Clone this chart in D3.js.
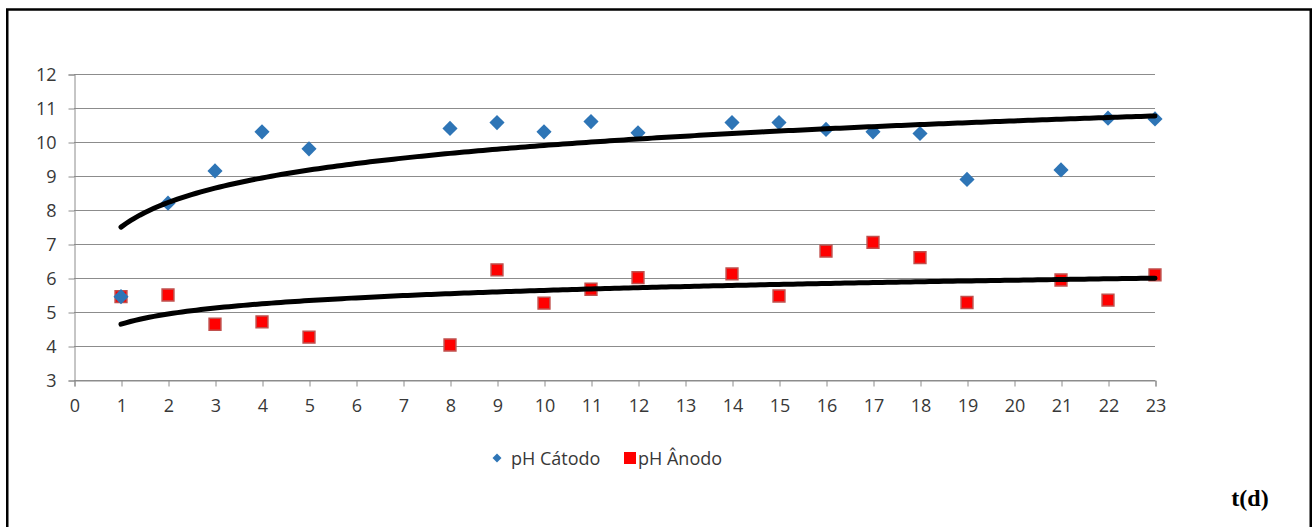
<html>
<head>
<meta charset="utf-8">
<title>pH Cátodo / Ânodo</title>
<script src="https://cdn.jsdelivr.net/npm/d3@7"></script>
<style>
  body { margin: 0; background: #fff; }
  text { font-family: "Open Sans", Lato, sans-serif; fill: #383838; }
</style>
</head>
<body>
<script>
// days sampled and the readings for each electrode
var days = [1, 2, 3, 4, 5, 8, 9, 10, 11, 12, 14, 15, 16, 17, 18, 19, 21, 22, 23];
var phCatodo = [5.45, 8.2, 9.15, 10.3, 9.8, 10.4, 10.57, 10.3, 10.6, 10.27, 10.57, 10.57, 10.37, 10.3, 10.25, 8.9, 9.18, 10.7, 10.68];
var phAnodo = [5.45, 5.5, 4.64, 4.71, 4.26, 4.03, 6.24, 5.26, 5.67, 6.01, 6.12, 5.47, 6.79, 7.05, 6.6, 5.28, 5.94, 5.35, 6.09];
var xTicks = d3.range(0, 24);
var yTicks = [3, 4, 5, 6, 7, 8, 9, 10, 11, 12];
var seriesNames = ["pH Cátodo", "pH Ânodo"];

var W = 1313, H = 527;

var svg = d3.select("body").append("svg")
    .attr("width", W)
    .attr("height", H);

// outer frame
svg.append("rect")
    .attr("x", 7.25).attr("y", 9.5)
    .attr("width", 1303.5).attr("height", 530)
    .attr("fill", "none")
    .attr("stroke", "#000")
    .attr("stroke-width", 2.5);

var x = d3.scaleLinear().domain([0, 23]).range([74, 1155]);
var y = d3.scaleLinear().domain([3, 12]).range([380, 74]);

// horizontal grid
svg.append("g").selectAll("line")
    .data(yTicks)
    .enter().append("line")
    .attr("x1", x(0)).attr("x2", x(23))
    .attr("y1", function(d) { return Math.round(y(d)) + 0.5; })
    .attr("y2", function(d) { return Math.round(y(d)) + 0.5; })
    .attr("stroke", "#8c8c8c")
    .attr("stroke-width", 1);

// y axis
var yAxis = svg.append("g")
    .attr("transform", "translate(" + (x(0) + 0.5) + ",0.5)")
    .call(d3.axisLeft(y).tickValues(yTicks).tickSize(6).tickPadding(12).tickFormat(d3.format("d")));

// x axis
var xAxis = svg.append("g")
    .attr("transform", "translate(0.5," + (y(3) + 0.5) + ")")
    .call(d3.axisBottom(x).tickValues(xTicks).tickSize(6).tickPadding(13).tickFormat(d3.format("d")));

[yAxis, xAxis].forEach(function(a) {
  a.selectAll("path, line").attr("stroke", "#8c8c8c");
  a.selectAll("text").style("font-size", "18px").style("font-family", "'Open Sans', Lato, sans-serif").attr("fill", "#383838");
});

// log trend (least squares on ln x), like the spreadsheet trendline
function logFit(xs, ys) {
  var L = xs.map(Math.log);
  var mL = d3.mean(L), mY = d3.mean(ys);
  var sxy = d3.sum(L, function(l, i) { return (l - mL) * (ys[i] - mY); });
  var sxx = d3.sum(L, function(l) { return (l - mL) * (l - mL); });
  var a = sxy / sxx;
  return { a: a, b: mY - a * mL };
}

var diamond = d3.symbol().type(d3.symbolSquare).size(115);
var square = d3.symbol().type(d3.symbolSquare).size(140);

// anodo squares
svg.append("g").selectAll("path")
    .data(days)
    .enter().append("path")
    .attr("d", square)
    .attr("transform", function(d, i) { return "translate(" + x(d) + "," + y(phAnodo[i]) + ")"; })
    .attr("fill", "#ff0000")
    .attr("stroke", "#c0504d")
    .attr("stroke-width", 1.5);

// catodo diamonds
svg.append("g").selectAll("path")
    .data(days)
    .enter().append("path")
    .attr("d", diamond)
    .attr("transform", function(d, i) { return "translate(" + x(d) + "," + y(phCatodo[i]) + ") rotate(45)"; })
    .attr("fill", "#2e75b6");

// trend lines
var line = d3.line()
    .x(function(d) { return x(d[0]); })
    .y(function(d) { return y(d[1]); });

[phCatodo, phAnodo].forEach(function(vals) {
  var f = logFit(days, vals);
  var pts = d3.range(1, 23.001, 0.1).map(function(t) { return [t, f.a * Math.log(t) + f.b]; });
  svg.append("path")
      .datum(pts)
      .attr("d", line)
      .attr("fill", "none")
      .attr("stroke", "#000")
      .attr("stroke-width", 5)
      .attr("stroke-linecap", "round");
});

// legend
var leg = svg.append("g");
leg.append("path")
    .attr("d", d3.symbol().type(d3.symbolSquare).size(40))
    .attr("transform", "translate(497,458) rotate(45)")
    .attr("fill", "#2e75b6");
leg.append("text")
    .attr("x", 511).attr("y", 464.5)
    .style("font-size", "18px")
    .text(seriesNames[0]);
leg.append("rect")
    .attr("x", 624).attr("y", 452)
    .attr("width", 12).attr("height", 12)
    .attr("fill", "#ff0000");
leg.append("text")
    .attr("x", 638).attr("y", 464.5)
    .style("font-size", "18px")
    .text(seriesNames[1]);

// axis caption
svg.append("text")
    .attr("x", 1250).attr("y", 506)
    .attr("text-anchor", "middle")
    .style("font-family", "'Liberation Serif', 'Times New Roman', serif")
    .style("font-weight", "bold")
    .style("font-size", "24px")
    .style("fill", "#000")
    .text("t(d)");
</script>
</body>
</html>
